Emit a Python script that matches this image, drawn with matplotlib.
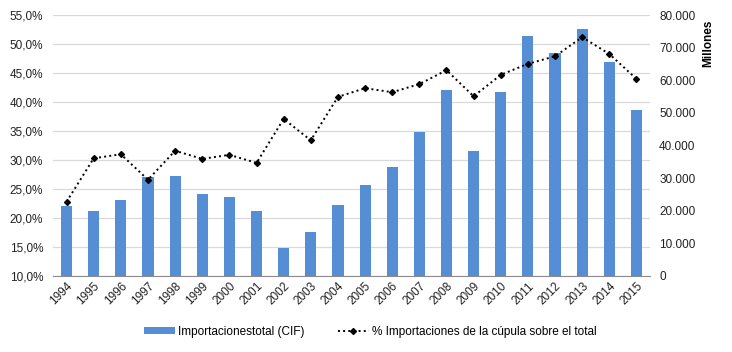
import numpy as np
import matplotlib
matplotlib.use('Agg')
import matplotlib.pyplot as plt
from matplotlib.ticker import FuncFormatter

plt.rcParams['font.family'] = ['Liberation Sans', 'DejaVu Sans']

years = [str(y) for y in range(1994, 2016)]
importaciones = [21.5, 19.9, 23.3, 30.3, 30.7, 25.1, 24.2, 19.9, 8.6, 13.5, 21.8,
                 27.9, 33.4, 44.1, 57.0, 38.3, 56.4, 73.6, 68.4, 75.7, 65.6, 50.9]
importaciones = [v * 1000 for v in importaciones]
pct_cupula = [22.8, 30.3, 31.0, 26.6, 31.6, 30.2, 30.9, 29.5, 37.1, 33.4, 40.9,
              42.4, 41.7, 43.1, 45.5, 41.0, 44.7, 46.6, 47.9, 51.2, 48.3, 44.0]

fig = plt.figure(figsize=(7.32, 3.52), dpi=100)
ax = fig.add_axes([0.0724, 0.216, 0.8156, 0.741])
ax2 = ax.twinx()

x = np.arange(len(years))
bars = ax2.bar(x, importaciones, width=0.41, color='#558ed5', zorder=2)
ax2.set_ylim(0, 80000)
ax2.set_yticks(np.arange(0, 80001, 10000))
ax2.yaxis.set_major_formatter(FuncFormatter(lambda v, p: '0' if v == 0 else f'{int(v):,}'.replace(',', '.')))

ax.set_ylim(10, 55)
ax.set_yticks(np.arange(10, 56, 5))
ax.yaxis.set_major_formatter(FuncFormatter(lambda v, p: f'{v:.1f}%'.replace('.', ',')))
ax.grid(axis='y', color='#d9d9d9', linewidth=0.9)
ax.set_axisbelow(True)
ax.set_xlim(-0.5, len(years) - 0.5)
ax.set_xticks(x)
ax.set_xticklabels(years, rotation=45, ha='right', rotation_mode='anchor')

# third axis so the line sits above the bars
ax3 = ax.twinx()
ax3.set_ylim(10, 55)
ax3.axis('off')
line, = ax3.plot(x, pct_cupula, color='black', linestyle=':', linewidth=1.4,
                 marker='D', markersize=3, zorder=3)

for a in (ax, ax2):
    for s in ('top', 'left', 'right'):
        a.spines[s].set_visible(False)
    a.tick_params(length=0, labelsize=8.5, colors='#222222')
ax2.spines['bottom'].set_visible(False)
ax.spines['bottom'].set_color('#8c8c8c')
ax.tick_params(axis='x', pad=3)
ax.tick_params(axis='y', pad=7)
ax2.tick_params(axis='y', pad=6.5)

fig.text(0.967, 0.878, 'Millones', rotation=90, fontsize=8.5, fontweight='bold',
         ha='center', va='center')

fig.legend([bars, line], ['Importacionestotal (CIF)', '% Importaciones de la cúpula sobre el total'],
           loc='center', bbox_to_anchor=(0.506, 0.057), ncol=2, frameon=False,
           fontsize=8.5, handlelength=2.6, handleheight=0.5, columnspacing=2.8,
           handletextpad=0.3)

fig.savefig('out.png', dpi=100)
